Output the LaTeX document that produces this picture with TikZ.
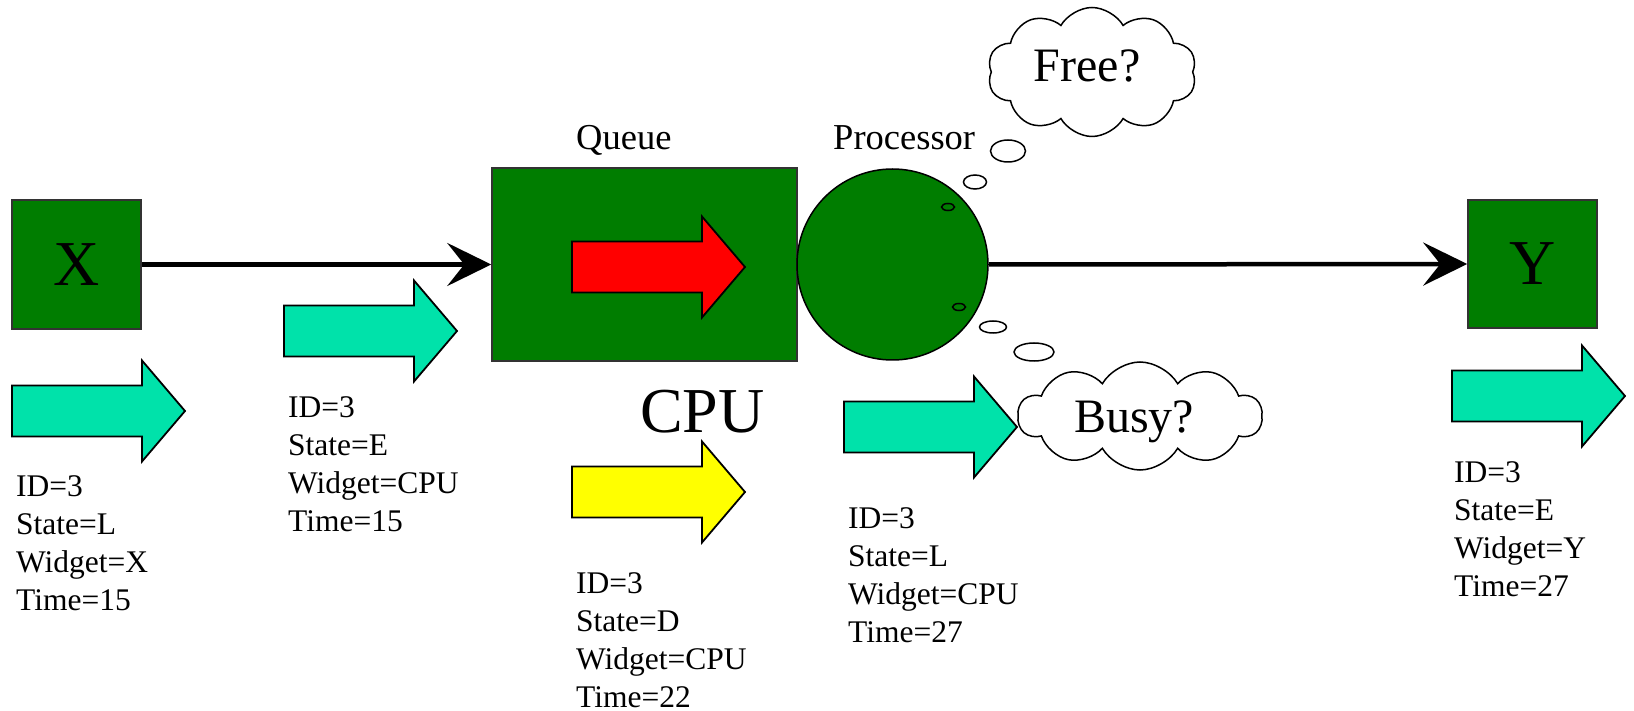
\documentclass[tikz,border=0pt]{standalone}
\usepackage{fontspec}
\setmainfont{Liberation Serif}
\usetikzlibrary{arrows.meta,shapes.symbols}

\definecolor{boxgreen}{RGB}{0,125,0}
\definecolor{tokencyan}{RGB}{0,226,170}
\definecolor{tokenred}{RGB}{255,0,0}
\definecolor{tokenyellow}{RGB}{255,255,0}

\newcommand\attrfont{\fontsize{31.5pt}{38pt}\selectfont}
\newcommand\bigfont{\fontsize{64pt}{70pt}\selectfont}

\tikzset{
  widget/.style={draw=black!80, line width=1.5pt, fill=boxgreen, inner sep=0pt, font=\bigfont},
  flow/.style={line width=4.5pt, -{Stealth[length=44pt,width=43pt,inset=17pt]}},
  attrs/.style={anchor=base west, align=left, inner sep=0pt, font=\attrfont},
  caption/.style={anchor=base west, inner sep=0pt, font=\fontsize{36.5pt}{40pt}\selectfont},
  thought/.style={cloud, cloud puffs=10, cloud puff arc=120, cloud ignores aspect,
    draw, line width=1.5pt, fill=white, inner sep=0pt},
  thoughttext/.style={inner sep=0pt, font=\fontsize{48pt}{52pt}\selectfont},
  bubble/.style={draw, line width=1.5pt},
  pics/token/.style={code={
    \draw[line width=1.8pt, fill=#1, line join=miter]
      (0,-25.5) -- (130,-25.5) -- (130,-50.5) -- (173,0) -- (130,50.5)
      -- (130,25.5) -- (0,25.5) -- cycle;}},
}

\begin{document}
\begin{tikzpicture}[x=1pt,y=-1pt]
\useasboundingbox (0,0) rectangle (1634,711);

% widgets
\node[widget, minimum width=129pt, minimum height=129pt] (xsrc) at (76.5,264.5) {X};
\node[widget, minimum width=305pt, minimum height=193pt] (queue) at (644.5,264.5) {};
\node[circle, draw, line width=1.5pt, fill=boxgreen, minimum size=191pt, inner sep=0pt]
  (proc) at (892.5,264.5) {};
\node[widget, minimum width=129pt, minimum height=128pt] (ysink) at (1532.5,264) {Y};

% flow of the entity
\draw[flow] (xsrc.east) -- (queue.west);
\draw[flow] (proc.east) -- (ysink.west);

% captions
\node[caption] (qlabel) at (576,150) {Queue};
\node[caption] (plabel) at (833,150) {Processor};
\node[anchor=base, inner sep=0pt, font=\bigfont] (cpulabel) at (702.5,432) {CPU};

% entity tokens
\pic at (12,411) {token=tokencyan};
\pic at (284,331) {token=tokencyan};
\pic at (572,267) {token=tokenred};
\pic at (572,492) {token=tokenyellow};
\pic at (844,427) {token=tokencyan};
\pic at (1452,396) {token=tokencyan};

% entity attributes
\node[attrs] (attrx) at (16,610) {ID=3\\State=L\\Widget=X\\Time=15};
\node[attrs] (attrq) at (288,531) {ID=3\\State=E\\Widget=CPU\\Time=15};
\node[attrs] (attrd) at (576,707) {ID=3\\State=D\\Widget=CPU\\Time=22};
\node[attrs] (attrp) at (848,642) {ID=3\\State=L\\Widget=CPU\\Time=27};
\node[attrs] (attry) at (1454,596) {ID=3\\State=E\\Widget=Y\\Time=27};

% thoughts of the processor
\node[thought, minimum width=209pt, minimum height=129pt] (free) at (1092,72) {};
\node[thoughttext, anchor=base] (freetext) at (1087,82) {Free?};
\node[thought, minimum width=244pt, minimum height=108pt] (busy) at (1140,416) {};
\node[thoughttext, anchor=base] (busytext) at (1134,432) {Busy?};

\draw[bubble] (948,207) ellipse [x radius=6.5pt, y radius=3.5pt];
\draw[bubble] (975,182) ellipse [x radius=11.5pt, y radius=7pt];
\draw[bubble] (1008,151) ellipse [x radius=17.5pt, y radius=11pt];
\draw[bubble] (959,307) ellipse [x radius=6.5pt, y radius=3.5pt];
\draw[bubble] (993,327) ellipse [x radius=13.5pt, y radius=6pt];
\draw[bubble] (1034,352) ellipse [x radius=20pt, y radius=9pt];
\end{tikzpicture}
\end{document}
